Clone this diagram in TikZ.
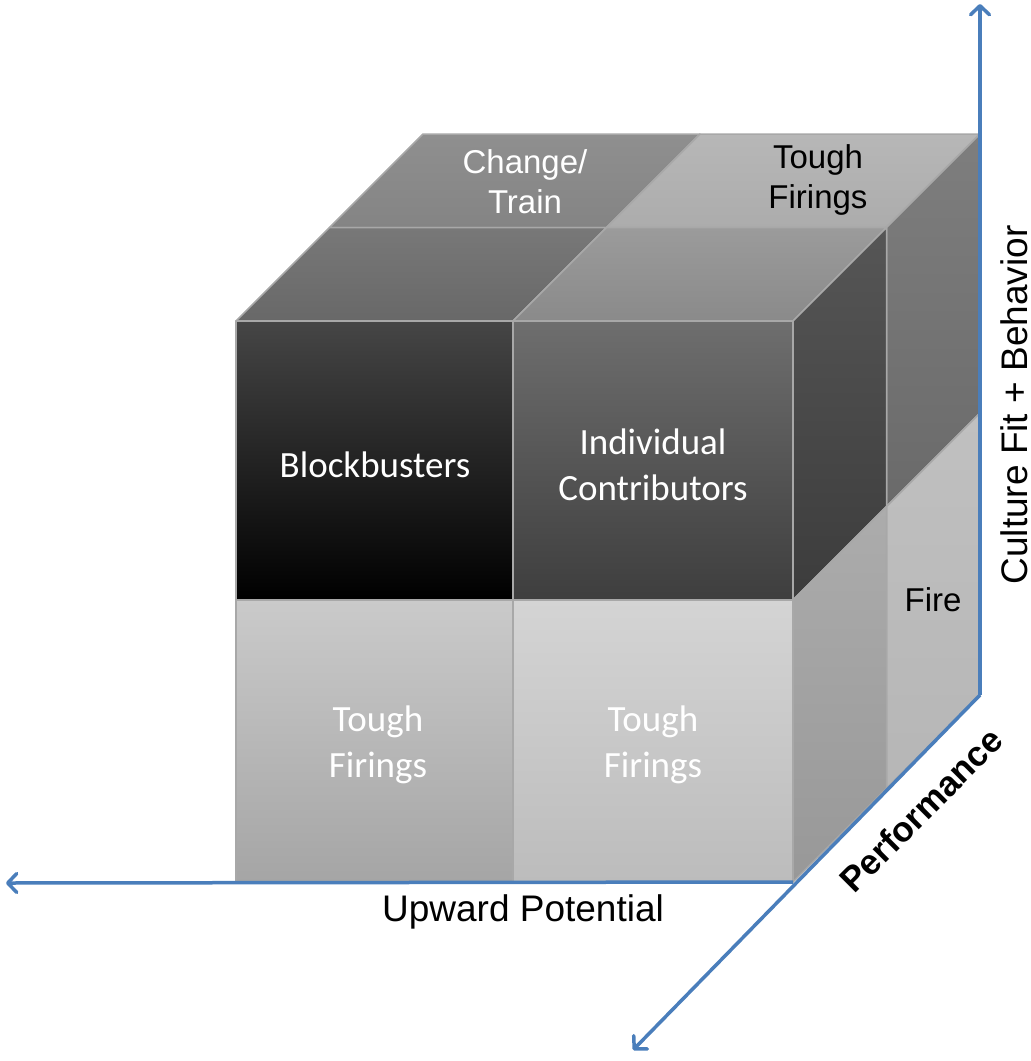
\documentclass[tikz,border=0pt]{standalone}
\usepackage{fontspec}
\setmainfont{Liberation Sans}
\newfontfamily\calfont{Carlito}
\usetikzlibrary{arrows.meta}
\definecolor{axisblue}{RGB}{74,126,187}
\definecolor{edgegray}{RGB}{168,168,168}
\begin{document}
\begin{tikzpicture}[x=1pt,y=-1pt,
  face/.style={draw=edgegray, line width=1.5pt, line join=round},
  axis/.style={draw=axisblue, line width=3.5pt, -{Straight Barb[length=9pt,width=19pt,round]}},
  arial/.style={font=\fontsize{33}{40}\selectfont, align=center, inner sep=0pt},
  arialbig/.style={font=\fontsize{37}{44}\selectfont, align=center, inner sep=0pt},
  calib/.style={font=\calfont\fontsize{37}{46}\selectfont, align=center, text=white, inner sep=0pt},
]
\useasboundingbox (0,0) rectangle (1031,1061);
% front grid
\coordinate (f00) at (236,321); \coordinate (f10) at (513,321); \coordinate (f20) at (793,321);
\coordinate (f01) at (236,600); \coordinate (f11) at (513,600); \coordinate (f21) at (793,600);
\coordinate (f02) at (236,882); \coordinate (f12) at (513,882); \coordinate (f22) at (793,882);
% middle depth
\coordinate (m00) at (329.5,227.5); \coordinate (m10) at (606.5,227.5); \coordinate (m20) at (886.5,227.5);
\coordinate (m21) at (886.5,506.5); \coordinate (m22) at (886.5,788.5);
% back depth
\coordinate (b00) at (423,134); \coordinate (b10) at (700,134); \coordinate (b20) at (980,134);
\coordinate (b21) at (980,413); \coordinate (b22) at (980,695);
% axis ends
\coordinate (xend) at (6,883);
\coordinate (yend) at (980,4);
\coordinate (zend) at (633,1050);

% top faces
\path[face, top color={rgb,255:red,143;green,143;blue,143}, bottom color={rgb,255:red,132;green,132;blue,132}] (m00)--(m10)--(b10)--(b00)--cycle;
\path[face, top color={rgb,255:red,183;green,183;blue,183}, bottom color={rgb,255:red,172;green,172;blue,172}] (m10)--(m20)--(b20)--(b10)--cycle;
\path[face, top color={rgb,255:red,120;green,120;blue,120}, bottom color={rgb,255:red,104;green,104;blue,104}] (f00)--(f10)--(m10)--(m00)--cycle;
\path[face, top color={rgb,255:red,155;green,155;blue,155}, bottom color={rgb,255:red,138;green,138;blue,138}] (f10)--(f20)--(m20)--(m10)--cycle;
% right faces
\path[face, top color={rgb,255:red,126;green,126;blue,126}, bottom color={rgb,255:red,106;green,106;blue,106}] (m20)--(b20)--(b21)--(m21)--cycle;
\path[face, top color={rgb,255:red,86;green,86;blue,86}, bottom color={rgb,255:red,60;green,60;blue,60}] (f20)--(m20)--(m21)--(f21)--cycle;
\path[face, top color={rgb,255:red,192;green,192;blue,192}, bottom color={rgb,255:red,182;green,182;blue,182}] (m21)--(b21)--(b22)--(m22)--cycle;
\path[face, top color={rgb,255:red,172;green,172;blue,172}, bottom color={rgb,255:red,152;green,152;blue,152}] (f21)--(m21)--(m22)--(f22)--cycle;
% front faces
\path[face, top color={rgb,255:red,70;green,70;blue,70}, bottom color=black] (f00) rectangle (f11);
\path[face, top color={rgb,255:red,110;green,110;blue,110}, bottom color={rgb,255:red,62;green,62;blue,62}] (f10) rectangle (f21);
\path[face, top color={rgb,255:red,202;green,202;blue,202}, bottom color={rgb,255:red,165;green,165;blue,165}] (f01) rectangle (f12);
\path[face, top color={rgb,255:red,212;green,212;blue,212}, bottom color={rgb,255:red,188;green,188;blue,188}] (f11) rectangle (f22);

% axes
\draw[axis] (f22) -- (xend);
\draw[axis] (b22) -- (yend);
\draw[axis] (b22) -- (zend);

% labels
\node[arial, text=white] (ct) at (525,182) {Change/\\Train};
\node[arial, text=black] (tft) at (818,180) {Tough\\Firings};
\node[calib] (bb) at (375,465) {Blockbusters};
\node[calib] (ic) at (653,465) {Individual\\Contributors};
\node[calib] (tf1) at (378,745) {Tough\\Firings};
\node[calib] (tf2) at (653,745) {Tough\\Firings};
\node[arial, text=black] (fire) at (933,600) {Fire};
\node[arialbig] (up) at (523,912) {Upward Potential};
\node[arialbig, rotate=90] (cf) at (1014,405) {Culture Fit + Behavior};
\node[font=\bfseries\fontsize{35}{42}\selectfont, rotate=45, inner sep=0pt] (perf) at (921,810) {Performance};
\end{tikzpicture}
\end{document}
